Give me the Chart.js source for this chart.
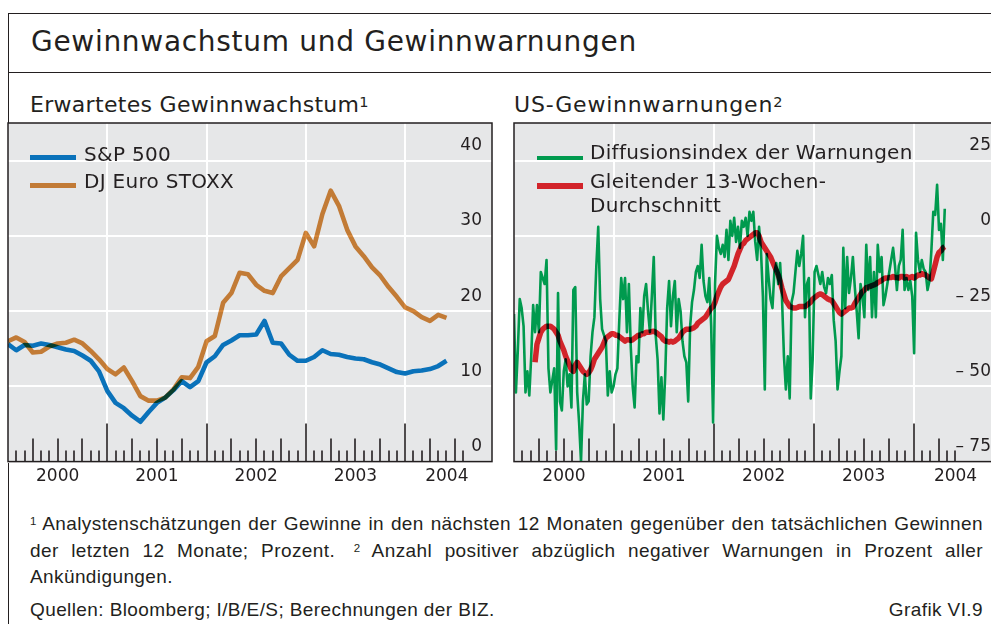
<!DOCTYPE html>
<html lang="de">
<head>
<meta charset="utf-8">
<script src="https://cdn.jsdelivr.net/npm/chart.js@4.4.1/dist/chart.umd.min.js"></script>
<style>
  html, body { margin: 0; padding: 0; }
  body {
    width: 991px; height: 624px; overflow: hidden; position: relative;
    background: #fff; color: #231f20; font-family: 'DejaVu Sans', sans-serif;
  }
  .line { position: absolute; background: #231f20; }
  .txt { position: absolute; white-space: nowrap; }
  .title { left: 31px; top: 26px; font-size: 28px; line-height: 32px; letter-spacing: 0.7px; }
  .sub { top: 89.4px; font-size: 22px; line-height: 26px; letter-spacing: 0.3px; }
  .sub span { font-size: 14.5px; vertical-align: 5px; letter-spacing: 0; }
  .lbl { font-size: 20px; line-height: 24px; letter-spacing: 0.3px; }
  .key { position: absolute; width: 46px; }
  canvas { position: absolute; }
  .note {
    position: absolute; left: 30px; width: 953px; white-space: nowrap;
    font-family: 'Liberation Sans', sans-serif; font-size: 19px; line-height: 22px;
    letter-spacing: 0.4px;
  }
  .just { text-align: justify; text-align-last: justify; }
  .note sup { font-size: 11.5px; vertical-align: 5px; line-height: 0; letter-spacing: 0; }
  .gap { margin-left: 6px; }
</style>
</head>
<body>
<div class="line" style="left:7.5px;top:12.5px;width:1.5px;height:612px"></div>
<div class="line" style="left:7.5px;top:12.5px;width:984px;height:1.5px"></div>
<div class="line" style="left:7.5px;top:71.5px;width:984px;height:1.5px"></div>

<div class="txt title">Gewinnwachstum und Gewinnwarnungen</div>
<div class="txt sub" style="left:30px">Erwartetes Gewinnwachstum<span>1</span></div>
<div class="txt sub" style="left:514px;letter-spacing:0.8px">US-Gewinnwarnungen<span>2</span></div>

<canvas id="growth" width="488" height="373" style="left:6px;top:121px"></canvas>
<canvas id="warnings" width="491" height="373" style="left:512px;top:121px"></canvas>

<div class="key" style="left:30px;top:154.5px;height:5px;background:#0a72ba"></div>
<div class="txt lbl" style="left:84px;top:141.8px">S&amp;P 500</div>
<div class="key" style="left:30px;top:183px;height:5px;background:#c27b36"></div>
<div class="txt lbl" style="left:84px;top:169.1px">DJ Euro STOXX</div>

<div class="key" style="left:537px;top:156px;height:4px;background:#009a4e"></div>
<div class="txt lbl" style="left:590px;top:140.4px">Diffusionsindex der Warnungen</div>
<div class="key" style="left:537px;top:183px;height:6px;background:#d2232a"></div>
<div class="txt lbl" style="left:590px;top:169.4px">Gleitender 13-Wochen-<br>Durchschnitt</div>

<div class="note just" style="top:512.5px"><sup>1</sup> Analystenschätzungen der Gewinne in den nächsten 12 Monaten gegenüber den tatsächlichen Gewinnen</div>
<div class="note just" style="top:539.5px">der letzten 12 Monate; Prozent. <sup class="gap">2</sup> Anzahl positiver abzüglich negativer Warnungen in Prozent aller</div>
<div class="note" style="top:565.5px">Ankündigungen.</div>
<div class="note" style="top:598.5px">Quellen: Bloomberg; I/B/E/S; Berechnungen der BIZ.</div>
<div class="note" style="top:598.5px;text-align:right">Grafik VI.9</div>

<script>
'use strict'

// monthly, Jan 2000 onwards
const spx = [
  15.6, 14.8, 15.5, 15.4, 15.7, 15.5, 15.2, 14.9, 14.7, 14.1, 13.4, 12.0,
  9.4, 7.8, 7.1, 6.1, 5.3, 6.6, 7.8, 8.5, 9.5, 10.7, 9.9, 10.7,
  13.2, 14.0, 15.5, 16.1, 16.8, 16.8, 16.9, 18.7, 15.8, 15.7, 14.2, 13.4,
  13.4, 13.9, 14.8, 14.3, 14.2, 13.9, 13.7, 13.6, 13.2, 12.9, 12.4, 11.9,
  11.7, 12.0, 12.1, 12.3, 12.7, 13.4
]
const stoxx = [
  16.0, 16.5, 15.9, 14.5, 14.6, 15.3, 15.7, 15.8, 16.2, 15.7, 14.7, 13.6,
  12.3, 11.6, 12.5, 10.7, 8.7, 8.1, 8.1, 8.5, 9.6, 11.2, 11.1, 12.6,
  16.0, 16.7, 21.1, 22.4, 25.1, 24.9, 23.5, 22.7, 22.4, 24.6, 25.7, 26.8,
  30.4, 28.6, 32.9, 36.0, 34.0, 30.8, 28.6, 27.3, 25.8, 24.7, 23.2, 21.9,
  20.5, 20.0, 19.2, 18.7, 19.5, 19.1
]

// weekly, first week of 2000 onwards
const diffusion = [
  -26, -52, -38, -21, -24, -30, -52, -45, -53, -40,
  -23, -32, -23, -32, -12, -14, -16, -8, -44, -52,
  -48, -44, -71, -19, -55, -58, -45, -41, -50, -46,
  -57, -18, -17, -52, -62, -75, -55, -46, -56, -55,
  -40, -32, -27, -10, 3, -21, -31, -33, -35, -53,
  -45, -52, -50, -46, -44, -28, -14, -21, -14, -32,
  -16, -37, -50, -57, -40, -42, -24, -32, -20, -16,
  -25, -32, -20, -7, -33, -41, -59, -47, -61, -46,
  -24, -15, -30, -20, -15, -32, -21, -25, -35, -40,
  -42, -55, -30, -22, -18, -12, -10, -14, -3, -15,
  -20, -22, -14, -30, -62, -16, 0, -4, -6, -3,
  -7, 2, -8, 5, 0, 6, -2, 3, -4, 5,
  3, 6, 0, 8, 5, 8, -2, -8, 3, -5,
  -20, -51, -6, -14, -21, -24, -12, -9, -16, -9,
  -21, -40, -51, -40, -54, -22, -19, -12, -5, -10,
  -6, 0, -27, -16, -14, -54, -41, -12, -10, -13,
  -16, -12, -17, -19, -14, -16, -13, -28, -35, -51,
  -45, -40, -4, -24, -7, -19, -14, -7, -17, -25,
  -34, -16, -20, -27, -3, -18, -7, -27, -12, -27,
  -3, -12, -7, -23, -20, -16, -12, -8, -4, -10,
  -18, -10, -8, 2, -18, -14, -18, -15, -20, -39,
  1, -8, -12, -8, -11, -12, -18, -15, -5, 8,
  7, 17, 2, 4, -8, 9
]
const movingAvgStart = 11
const movingAvg = [
  -42, -36, -34, -32, -31, -30.5, -30, -30, -30, -30.5,
  -31, -32, -33, -35, -36.5, -38, -40, -41.5, -43, -44.5,
  -45, -43, -42, -43, -44, -45, -45.5, -46, -45.5, -44.5,
  -43, -41, -40, -39, -38, -37, -35.5, -34, -33.5, -33,
  -32.5, -32.5, -33, -33, -33.5, -34, -34.5, -35, -34.5, -34.5,
  -34.8, -34.5, -34, -33.5, -33, -33, -32.5, -32.5, -32, -32,
  -32, -31.8, -31.7, -32, -32.5, -33, -33.5, -34.5, -35, -35,
  -35.3, -35, -35.3, -35, -34.5, -34, -33, -32, -31.5, -31,
  -31, -31, -30.8, -30.5, -30, -29, -28.5, -28, -27.5, -27,
  -26, -25, -24, -23.5, -22, -20, -18.5, -17, -16, -15.5,
  -15, -14.5, -13, -11.5, -10, -8, -6, -4.5, -3, -2.5,
  -1.5, -1, -0.5, 0, 0.5, 1, 1, 0, -2, -3,
  -4, -5, -6, -7, -8.5, -10, -11.5, -13, -15, -17.5,
  -19.5, -21.5, -22.5, -23.5, -23.7, -24, -24, -23.8, -23.5, -23.5,
  -23.5, -23.5, -23, -22.5, -22, -21, -20.5, -20, -19.5, -19.3,
  -19.5, -20, -20.5, -21, -21.3, -21.5, -22.5, -23.5, -24.5, -25.5,
  -26, -25.5, -25, -24.5, -24, -24, -23.7, -22.5, -21.5, -20.5,
  -19.5, -18.5, -18, -17.2, -17, -16.8, -16.5, -16.3, -16, -15.5,
  -15.2, -14.8, -14.3, -14, -14, -13.8, -13.8, -13.5, -13.8, -13.8,
  -14, -13.5, -13.5, -14, -13.5, -14, -13.8, -13.5, -14, -13.5,
  -13, -13, -12.5, -12.8, -13, -13.5, -14, -14.3, -12, -9.5,
  -7, -5.5, -5, -4, -3.6
]

const yearLabels = ['2000', '2001', '2002', '2003', '2004']
const yearLabelAt = [2000.5, 2001.5, 2002.5, 2003.5, 2004.42]
const yearLines = [2001, 2002, 2003, 2004]
const growthTicks = [0, 10, 20, 30, 40]
const warningTicks = [-75, -50, -25, 0, 25]

const ink = '#231f20'
const axisFont = { family: 'DejaVu Sans', size: 17 }

const monthToYear = (i) => 2000 + i / 12
const weekToYear = (i) => 2000 + (i * 7) / 365.25

const panelPlugin = {
  id: 'panel',
  beforeDraw(chart, args, opts) {
    const { ctx, chartArea: a } = chart
    ctx.save()
    ctx.fillStyle = opts.background
    ctx.fillRect(a.left, a.top, a.width, a.height)
    ctx.restore()
  },
  beforeDatasetsDraw(chart, args, opts) {
    // month marks standing on the bottom axis
    const { ctx, chartArea: a, scales } = chart
    ctx.save()
    ctx.strokeStyle = ink
    ctx.lineWidth = 1.6
    for (let m = 1; m <= opts.lastTick; m++) {
      const px = Math.round(scales.x.getPixelForValue(monthToYear(m)))
      const len = m % 12 === 0 ? 38 : m % 3 === 0 ? 23 : 11
      ctx.beginPath()
      ctx.moveTo(px, a.bottom)
      ctx.lineTo(px, a.bottom - len)
      ctx.stroke()
    }
    ctx.restore()
  },
  beforeDatasetDraw(chart, args) {
    if (chart.data.datasets[args.index].blend) {
      chart.ctx.save()
      chart.ctx.globalCompositeOperation = 'multiply'
    }
  },
  afterDatasetDraw(chart, args) {
    if (chart.data.datasets[args.index].blend) chart.ctx.restore()
  },
  afterDraw(chart) {
    const { ctx, chartArea: a } = chart
    ctx.save()
    ctx.strokeStyle = ink
    ctx.lineWidth = 1.5
    ctx.strokeRect(a.left, a.top, a.width, a.height)
    ctx.restore()
  }
}

function makeChart(id, datasets, yMin, yMax, yTicks, yLabel, lastTick) {
  return new Chart(document.getElementById(id), {
    type: 'line',
    data: { datasets },
    plugins: [panelPlugin],
    options: {
      responsive: false,
      animation: false,
      events: [],
      layout: { padding: { left: 2, right: 2, top: 2, bottom: 2 } },
      elements: { point: { radius: 0 }, line: { tension: 0, borderJoinStyle: 'round', borderCapStyle: 'butt' } },
      plugins: {
        legend: { display: false },
        tooltip: { enabled: false },
        panel: { background: '#e6e7e8', lastTick }
      },
      scales: {
        x: {
          type: 'linear',
          min: 2000,
          max: 2004.875,
          afterBuildTicks: (scale) => {
            scale.ticks = [...yearLines, ...yearLabelAt].sort((a, b) => a - b).map((value) => ({ value }))
          },
          afterFit: (scale) => {
            scale.paddingLeft = 0
            scale.paddingRight = 0
          },
          grid: {
            color: (c) => (c.tick && yearLines.includes(c.tick.value) ? '#ffffff' : 'rgba(0,0,0,0)'),
            lineWidth: 2,
            drawTicks: false
          },
          border: { display: false },
          ticks: {
            autoSkip: false,
            maxRotation: 0,
            padding: 5,
            color: ink,
            font: axisFont,
            callback: (v) => {
              const i = yearLabelAt.indexOf(v)
              return i >= 0 ? yearLabels[i] : ''
            }
          }
        },
        y: {
          position: 'right',
          min: yMin,
          max: yMax,
          afterBuildTicks: (scale) => {
            scale.ticks = yTicks.map((value) => ({ value }))
          },
          afterFit: (scale) => {
            scale.width = 0
            scale.paddingTop = 0
            scale.paddingBottom = 0
          },
          grid: { color: '#ffffff', lineWidth: 2, drawTicks: false },
          border: { display: false },
          ticks: {
            mirror: true,
            padding: -10,
            labelOffset: -15,
            color: ink,
            font: axisFont,
            callback: yLabel
          }
        }
      }
    }
  })
}

makeChart(
  'growth',
  [
    {
      label: 'DJ Euro STOXX',
      data: stoxx.map((v, i) => ({ x: monthToYear(i), y: v })),
      borderColor: '#d7883b',
      borderWidth: 4.6,
      blend: true
    },
    {
      label: 'S&P 500',
      data: spx.map((v, i) => ({ x: monthToYear(i), y: v })),
      borderColor: '#0a72ba',
      borderWidth: 4.6
    }
  ],
  0, 45, growthTicks, (v) => String(v), 55
)

makeChart(
  'warnings',
  [
    {
      label: 'Gleitender 13-Wochen-Durchschnitt',
      data: movingAvg.map((v, i) => ({ x: weekToYear(i + movingAvgStart), y: v })),
      borderColor: '#e9272e',
      borderWidth: 5.5,
      blend: true
    },
    {
      label: 'Diffusionsindex der Warnungen',
      data: diffusion.map((v, i) => ({ x: weekToYear(i), y: v })),
      borderColor: '#009a4e',
      borderWidth: 2.6
    }
  ],
  -75, 37.5, warningTicks, (v) => (v < 0 ? '\u2013 ' + Math.abs(v) : String(v)), 53
)
</script>
</body>
</html>
